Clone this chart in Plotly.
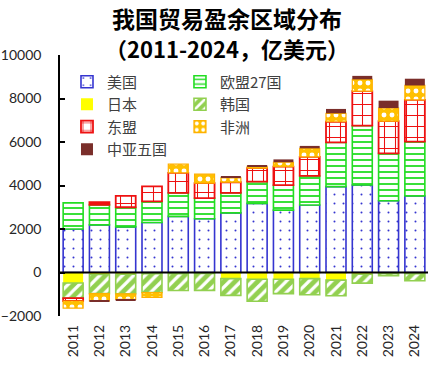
import plotly.graph_objects as go

years = ["2011", "2012", "2013", "2014", "2015", "2016", "2017",
         "2018", "2019", "2020", "2021", "2022", "2023", "2024"]

usa = [2000, 2190, 2100, 2300, 2580, 2470, 2740, 3180, 2870, 3100, 3950, 4020, 3300, 3520]
eu27 = [1200, 920, 900, 970, 1080, 950, 920, 1000, 1150, 1340, 2030, 2730, 2180, 2500]
japan = [-480, -90, -80, -60, -50, -40, -280, -310, -310, -280, -350, -80, -50, -50]
korea = [-700, -880, -900, -860, -780, -780, -770, -1010, -660, -740, -720, -410, -100, -330]
asean = [-130, 130, 520, 690, 920, 690, 490, 620, 850, 880, 950, 1590, 1480, 1920]
africa = [-330, -340, -260, -230, 400, 410, 200, 80, 200, 390, 390, 540, 600, 660]
central_asia = [0, -40, -40, 0, 0, 0, 50, 30, 130, 110, 200, 160, 340, 310]

tick_vals = [-2000, 0, 2000, 4000, 6000, 8000, 10000]

series = [
    dict(name="美国", y=usa, legend="legend",
         marker=dict(color="white", line=dict(color="#3535D0", width=1.6),
                     pattern=dict(shape=".", fgcolor="#3535D0", bgcolor="white",
                                  size=9, solidity=0.04, fillmode="replace"))),
    dict(name="欧盟27国", y=eu27, legend="legend2",
         marker=dict(color="white", line=dict(color="#22DD22", width=1.6),
                     pattern=dict(shape="-", fgcolor="#22DD22", bgcolor="white",
                                  size=6, solidity=0.3, fillmode="replace"))),
    dict(name="日本", y=japan, legend="legend",
         marker=dict(color="#FFFF00", line=dict(color="#FFFF00", width=0))),
    dict(name="韩国", y=korea, legend="legend2",
         marker=dict(color="#92D050", line=dict(color="#92D050", width=1.6),
                     pattern=dict(shape="/", fgcolor="white", bgcolor="#92D050",
                                  size=8, solidity=0.4, fillmode="replace"))),
    dict(name="东盟", y=asean, legend="legend",
         marker=dict(color="white", line=dict(color="#EE1111", width=1.8),
                     pattern=dict(shape="+", fgcolor="#EE1111", bgcolor="white",
                                  size=11, solidity=0.18, fillmode="replace"))),
    dict(name="非洲", y=africa, legend="legend2",
         marker=dict(color="#FFC000", line=dict(color="#FFB000", width=1.2),
                     pattern=dict(shape=".", fgcolor="white", bgcolor="#FFC000",
                                  size=8, solidity=0.3, fillmode="replace"))),
    dict(name="中亚五国", y=central_asia, legend="legend",
         marker=dict(color="#7A2E2A", line=dict(color="#7A2E2A", width=0))),
]

fig = go.Figure()
for s in series:
    fig.add_trace(go.Bar(x=years, y=s["y"], name=s["name"], marker=s["marker"],
                         legend=s["legend"]))

legend_font = dict(family="Noto Sans CJK SC", size=15, color="#404040")

fig.update_layout(
    width=441, height=380,
    margin=dict(l=60, r=13, t=55, b=64),
    paper_bgcolor="white", plot_bgcolor="white",
    barmode="relative", bargap=0.24,
    showlegend=True,
    legend=dict(x=0.019, y=0.96, xanchor="left", yanchor="top",
                traceorder="normal", font=legend_font, bgcolor="rgba(0,0,0,0)",
                tracegroupgap=0, itemwidth=30),
    legend2=dict(x=0.326, y=0.96, xanchor="left", yanchor="top",
                 traceorder="normal", font=legend_font, bgcolor="rgba(0,0,0,0)",
                 tracegroupgap=0, itemwidth=30),
    xaxis=dict(tickangle=-90, showline=False, ticks="", showgrid=False,
               ticklabelstandoff=5, automargin=False,
               tickfont=dict(family="Lato", size=14, color="#262626")),
    yaxis=dict(range=[-2000, 10000], tickvals=tick_vals, tickformat="d",
               showgrid=False, zeroline=False, showline=True, linecolor="black",
               linewidth=1.5, ticks="inside", ticklen=5, tickcolor="black",
               tickwidth=1.5, ticklabelstandoff=14, automargin=False,
               tickfont=dict(family="Lato", size=14, color="#262626")),
    annotations=[
        dict(text="<b>我国贸易盈余区域分布</b>", xref="paper", yref="paper",
             x=0.454, y=1.142, xanchor="center", yanchor="middle", showarrow=False,
             font=dict(family="Noto Sans CJK SC", size=23, color="black")),
        dict(text="<b>（2011-2024，亿美元）</b>", xref="paper", yref="paper",
             x=0.454, y=1.025, xanchor="center", yanchor="middle", showarrow=False,
             font=dict(family="Noto Sans CJK SC", size=22, color="black")),
    ],
    shapes=[dict(type="line", xref="paper", yref="y", x0=0, x1=1, y0=0, y1=0,
                 line=dict(color="black", width=2), layer="above")],
)

fig.write_html("out.html", post_script="document.body.style.margin='0';",
               config={"displayModeBar": False})
